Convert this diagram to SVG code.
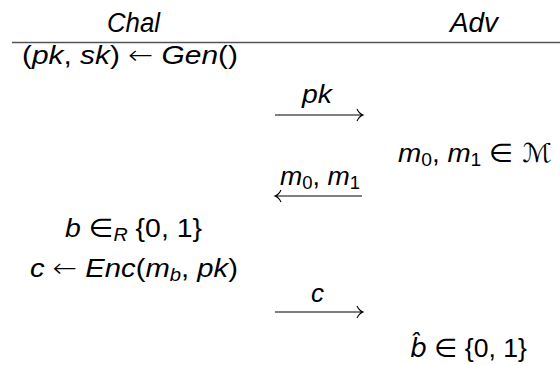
<svg xmlns="http://www.w3.org/2000/svg" width="560" height="365" viewBox="0 0 560 365">
<style>
text{font-family:"Liberation Sans","DejaVu Sans",sans-serif;font-size:26px;fill:#000}
.h{font-size:27px}
.i{font-style:italic}
.sub{font-size:18px}
.sym{font-family:"DejaVu Sans",sans-serif}
.la{font-family:"DejaVu Sans",sans-serif;font-weight:300}
.arr{fill:none;stroke:#000;stroke-width:1.1}
</style>
<rect width="560" height="365" fill="#fff"/>
<g id="header">
<text class="i h" x="107" y="32" textLength="53" lengthAdjust="spacingAndGlyphs">Chal</text>
<text class="i h" x="450" y="32" textLength="48" lengthAdjust="spacingAndGlyphs">Adv</text>
<line x1="12" y1="42.5" x2="560" y2="42.5" stroke="#555" stroke-width="1.3"/>
</g>
<g id="gen"><text x="22" y="64" textLength="216" lengthAdjust="spacingAndGlyphs">(<tspan class="i">pk</tspan>, <tspan class="i">sk</tspan>) <tspan class="la">←</tspan> <tspan class="i">Gen</tspan>()</text></g>
<g id="choose"><text x="398" y="162" textLength="154" lengthAdjust="spacingAndGlyphs"><tspan class="i">m</tspan><tspan class="sub" dy="4">0</tspan><tspan dy="-4">, </tspan><tspan class="i">m</tspan><tspan class="sub" dy="4">1</tspan><tspan dy="-4"> <tspan class="sym">∈ ℳ</tspan></tspan></text></g>
<g id="sample"><text x="65" y="237" textLength="137" lengthAdjust="spacingAndGlyphs"><tspan class="i">b</tspan> <tspan class="sym">∈</tspan><tspan class="i sub" dy="4">R</tspan><tspan dy="-4"> {0, 1}</tspan></text></g>
<g id="enc"><text x="30" y="277" textLength="208" lengthAdjust="spacingAndGlyphs"><tspan class="i">c</tspan> <tspan class="la">←</tspan> <tspan class="i">Enc</tspan>(<tspan class="i">m</tspan><tspan class="i sub" dy="4">b</tspan><tspan dy="-4">, </tspan><tspan class="i">pk</tspan>)</text></g>
<g id="guess"><text x="410" y="357" textLength="117" lengthAdjust="spacingAndGlyphs"><tspan class="i sym">b̂</tspan> <tspan class="sym">∈</tspan> {0, 1}</text></g>
<g id="connectors">
<text class="i" x="302" y="103" textLength="30" lengthAdjust="spacingAndGlyphs">pk</text>
<path class="arr" d="M275,115H363M357,109Q359,113.5 363,115Q359,116.5 357,121"/>
<text x="280" y="185" textLength="80" lengthAdjust="spacingAndGlyphs"><tspan class="i">m</tspan><tspan class="sub" dy="4">0</tspan><tspan dy="-4">, </tspan><tspan class="i">m</tspan><tspan class="sub" dy="4">1</tspan></text>
<path class="arr" d="M362,196H275M281,190Q279,194.5 275,196Q279,197.5 281,202"/>
<text class="i" x="311" y="302" textLength="13" lengthAdjust="spacingAndGlyphs">c</text>
<path class="arr" d="M275,312H363M357,306Q359,310.5 363,312Q359,313.5 357,318"/>
</g>
</svg>
